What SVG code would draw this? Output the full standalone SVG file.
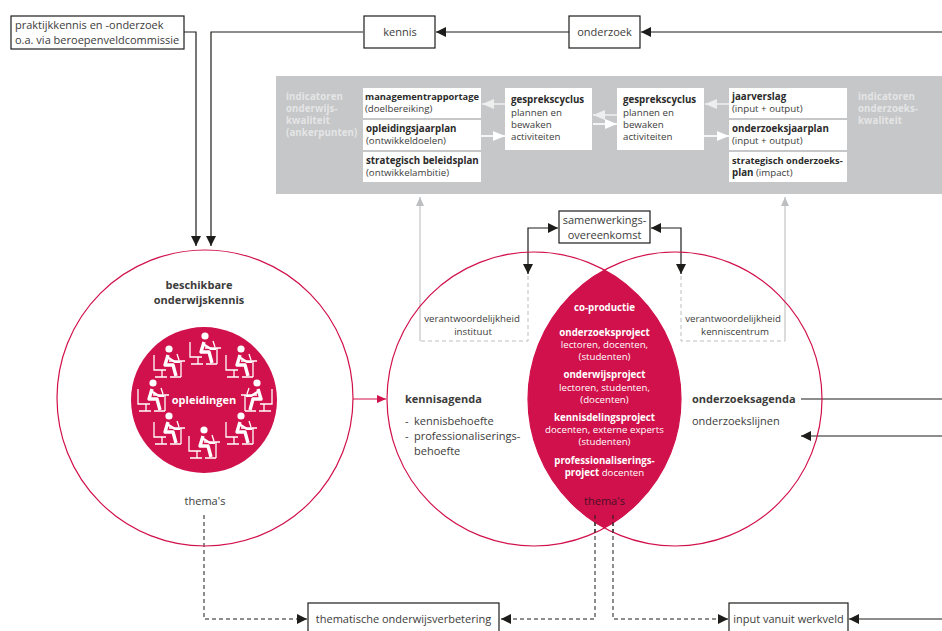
<svg xmlns="http://www.w3.org/2000/svg" xmlns:xlink="http://www.w3.org/1999/xlink" width="942" height="631" viewBox="0 0 942 631">
<style>
text{font-family:"Open Sans","Liberation Sans",sans-serif;font-size:11px;fill:#3c3c3b}
.b{font-weight:700}
.w{fill:#fff}
.s{font-size:9.7px}
.p{font-size:9.7px}
.pb{font-size:9.75px;font-weight:700;fill:#2b2b2a}
.pn{font-size:9.3px;font-weight:700;fill:#2b2b2a}
.g{fill:#e4e5e6;font-weight:700;font-size:9.7px;letter-spacing:.1px}
.m{text-anchor:middle}
.box{fill:#fff;stroke:#1d1d1b;stroke-width:1.2}
.wb{fill:#fff}
.k{fill:none;stroke:#1d1d1b;stroke-width:1.2}
.d{fill:none;stroke:#1d1d1b;stroke-width:1;stroke-dasharray:4 3}
.gl{fill:none;stroke:#bdbebf;stroke-width:1.1}
.gd{fill:none;stroke:#bdbebf;stroke-width:1;stroke-dasharray:4 3}
.wl{fill:none;stroke:#fff;stroke-width:1.6}
.c{fill:none;stroke:#d1114b;stroke-width:1.2}
.i{fill:none;stroke:#fff;stroke-width:1.3}
.a{fill:none;stroke:#fff;stroke-width:2.2;stroke-linejoin:round}
.t{fill:none;stroke:#fff;stroke-width:3.4;stroke-linejoin:round}
</style>
<defs>
<marker id="ak" markerUnits="userSpaceOnUse" markerWidth="10" markerHeight="10" refX="10" refY="5" orient="auto-start-reverse"><path d="M0 0L10 5L0 10Z" fill="#1d1d1b"/></marker>
<marker id="ag" markerUnits="userSpaceOnUse" markerWidth="9" markerHeight="8" refX="9" refY="4" orient="auto"><path d="M0 0L9 4L0 8Z" fill="#bdbebf"/></marker>
<marker id="aw" markerUnits="userSpaceOnUse" markerWidth="12" markerHeight="10" refX="12" refY="5" orient="auto"><path d="M0 0L12 5L0 10Z" fill="#fff"/></marker>
<marker id="awf" markerUnits="userSpaceOnUse" markerWidth="12" markerHeight="10" refX="12" refY="5" orient="auto"><path d="M0 0L12 5L0 10Z" fill="#eeeeef"/></marker>
<marker id="ac" markerUnits="userSpaceOnUse" markerWidth="9" markerHeight="8" refX="9" refY="4" orient="auto"><path d="M0 0L9 4L0 8Z" fill="#d1114b"/></marker>
<clipPath id="lens"><circle cx="534" cy="399" r="147"/></clipPath>
<g id="p">
<circle cx="16" cy="4" r="3.6" fill="#fff"/>
<path class="t" d="M15 10L12 20H20L23 31"/>
<path class="a" d="M14 12L22 17H27"/>
<path class="i" d="M1 10V25H13M9 25V32M2 32H14M16 16H32M28 16V32M17 32H28M24 9L26 15"/>
</g>
</defs>

<rect id="panel" x="276" y="76" width="666" height="118" fill="#c6c7c8"/>

<g id="connectors">
<path class="k" d="M184 32H196V246" marker-end="url(#ak)"/>
<path class="k" d="M363 32H211V246" marker-end="url(#ak)"/>
<path class="k" d="M569 32H436" marker-end="url(#ak)"/>
<path class="k" d="M942 32H641" marker-end="url(#ak)"/>
<path class="k" d="M528 274V228H558" marker-start="url(#ak)" marker-end="url(#ak)"/>
<path class="k" d="M681 274V228H651" marker-start="url(#ak)" marker-end="url(#ak)"/>
<path class="gd" d="M528 276V341H420"/>
<path class="gd" d="M681 276V341H785"/>
<path class="gl" d="M420 341V197" marker-end="url(#ag)"/>
<path class="gl" d="M785 341V197" marker-end="url(#ag)"/>
<path class="k" style="stroke:#d1114b" d="M353 399H386" marker-end="url(#ac)"/>
<path class="k" d="M801 399H942"/>
<path class="k" d="M942 436H801" marker-end="url(#ak)"/>
<path class="k" d="M942 619H849" marker-end="url(#ak)"/>
<path class="d" d="M204 515V619H307" marker-end="url(#ak)"/>
<path class="d" d="M595 515V619H501" marker-end="url(#ak)"/>
<path class="d" d="M613 515V619H728" marker-end="url(#ak)"/>
</g>

<g id="praktijk"><rect class="box" x="11" y="16" width="173" height="33"/>
<text x="15" y="29">praktijkkennis en -onderzoek</text><text x="15" y="44">o.a. via beroepenveldcommissie</text></g>
<g id="kennis"><rect class="box" x="364" y="16" width="71" height="32"/><text class="m" x="400" y="36">kennis</text></g>
<g id="onderzoek"><rect class="box" x="569" y="16" width="71" height="32"/><text class="m" x="604.500" y="36">onderzoek</text></g>

<g id="ind-onderwijs"><text class="g" x="286" y="100">indicatoren</text><text class="g" x="286" y="112">onderwijs-</text><text class="g" x="286" y="124">kwaliteit</text><text class="g" x="286" y="136">(ankerpunten)</text></g>
<g id="ind-onderzoek"><text class="g" x="858" y="100">indicatoren</text><text class="g" x="858" y="112">onderzoeks-</text><text class="g" x="858" y="124">kwaliteit</text></g>

<g id="managementrapportage"><rect class="wb" x="363" y="88" width="118" height="30"/><text class="pn" x="365" y="100">managementrapportage</text><text class="p" x="365" y="112">(doelbereiking)</text></g>
<g id="opleidingsjaarplan"><rect class="wb" x="363" y="120" width="118" height="30"/><text class="pb" x="366" y="132">opleidingsjaarplan</text><text class="p" x="366" y="144">(ontwikkeldoelen)</text></g>
<g id="beleidsplan"><rect class="wb" x="363" y="152" width="118" height="30"/><text class="pb" x="366" y="164">strategisch beleidsplan</text><text class="p" x="366" y="176">(ontwikkelambitie)</text></g>
<g id="cyclus1"><rect class="wb" x="505" y="88" width="87" height="62"/><text class="pb" x="511" y="103">gesprekscyclus</text><text class="p" x="511" y="116">plannen en</text><text class="p" x="511" y="128">bewaken</text><text class="p" x="511" y="140">activiteiten</text></g>
<g id="cyclus2"><rect class="wb" x="617" y="88" width="87" height="62"/><text class="pb" x="623" y="103">gesprekscyclus</text><text class="p" x="623" y="116">plannen en</text><text class="p" x="623" y="128">bewaken</text><text class="p" x="623" y="140">activiteiten</text></g>
<g id="jaarverslag"><rect class="wb" x="729" y="88" width="118" height="30"/><text class="pb" x="732" y="100">jaarverslag</text><text class="p" x="732" y="112">(input + output)</text></g>
<g id="onderzoeksjaarplan"><rect class="wb" x="729" y="120" width="118" height="30"/><text class="pb" x="732" y="132">onderzoeksjaarplan</text><text class="p" x="732" y="144">(input + output)</text></g>
<g id="onderzoeksplan"><rect class="wb" x="729" y="152" width="118" height="30"/><text class="pn" x="732" y="164">strategisch onderzoeks-</text><text class="p" x="732" y="176"><tspan class="pb">plan</tspan> (impact)</text></g>

<g id="white-arrows">
<path class="wl" style="stroke:#eeeeef" d="M505 104H482" marker-end="url(#awf)"/>
<path class="wl" d="M481 136H505" marker-end="url(#aw)"/>
<path class="wl" style="stroke:#eeeeef" d="M617 115H593" marker-end="url(#awf)"/>
<path class="wl" d="M593 124H617" marker-end="url(#aw)"/>
<path class="wl" style="stroke:#eeeeef" d="M729 104H705" marker-end="url(#awf)"/>
<path class="wl" d="M704 136H729" marker-end="url(#aw)"/>
</g>

<g id="overeenkomst"><rect class="box" x="559" y="211" width="91" height="32"/><text class="m" x="604.500" y="224">samenwerkings-</text><text class="m" x="604.500" y="239">overeenkomst</text></g>

<g id="onderwijskennis"><circle class="c" cx="205" cy="398" r="148"/>
<text class="b m" x="199" y="289">beschikbare</text><text class="b m" x="199" y="304">onderwijskennis</text>
<text class="m" x="205" y="505">thema's</text></g>

<g id="opleidingen"><circle cx="204" cy="400" r="73" fill="#d1114b"/>
<use xlink:href="#p" href="#p" x="153" y="345"/>
<use xlink:href="#p" href="#p" x="189" y="332"/>
<use xlink:href="#p" href="#p" x="225" y="345"/>
<use xlink:href="#p" href="#p" x="137" y="379"/>
<use xlink:href="#p" href="#p" transform="translate(273 379) scale(-1 1)"/>
<use xlink:href="#p" href="#p" x="153" y="412"/>
<use xlink:href="#p" href="#p" x="188" y="426"/>
<use xlink:href="#p" href="#p" x="225" y="412"/>
<text class="b w m" x="204" y="404">opleidingen</text></g>

<g id="kennisagenda"><circle class="c" cx="534" cy="399" r="147"/>
<text class="s m" x="472" y="322">verantwoordelijkheid</text><text class="s m" x="473" y="335">instituut</text>
<text class="b" x="405" y="403">kennisagenda</text>
<text x="405" y="425">-</text><text x="414" y="425">kennisbehoefte</text>
<text x="405" y="440">-</text><text x="414" y="440">professionaliserings-</text><text x="414" y="455">behoefte</text></g>

<g id="onderzoeksagenda"><circle class="c" cx="675" cy="399" r="147"/>
<text class="s m" x="733" y="322">verantwoordelijkheid</text><text class="s m" x="735" y="335">kenniscentrum</text>
<text class="b" x="692" y="403">onderzoeksagenda</text><text x="692" y="425">onderzoekslijnen</text></g>

<g id="coproductie"><circle cx="675" cy="399" r="147" fill="#d1114b" clip-path="url(#lens)"/>
<text class="s b w m" x="604.500" y="311">co-productie</text>
<text class="s b w m" x="604.500" y="336">onderzoeksproject</text><text class="s w m" x="604.500" y="348">lectoren, docenten,</text><text class="s w m" x="604.500" y="360">(studenten)</text>
<text class="s b w m" x="604.500" y="378">onderwijsproject</text><text class="s w m" x="604.500" y="391">lectoren, studenten,</text><text class="s w m" x="604.500" y="403">(docenten)</text>
<text class="s b w m" x="604.500" y="421">kennisdelingsproject</text><text class="s w m" x="604.500" y="433">docenten, externe experts</text><text class="s w m" x="604.500" y="445">(studenten)</text>
<text class="s b w m" x="604.500" y="464">professionaliserings-</text><text class="s w m" x="604.500" y="476"><tspan class="b">project</tspan> docenten</text>
<text class="m" x="604.500" y="505" style="fill:#4a0f26">thema's</text></g>

<g id="dash-over"><path class="d" d="M595 515V535M613 515V535"/></g>

<g id="verbetering"><rect class="box" x="308" y="603" width="191" height="32"/><text class="m" x="403.500" y="623">thematische onderwijsverbetering</text></g>
<g id="werkveld"><rect class="box" x="729" y="603" width="119" height="32"/><text class="m" x="788.500" y="623">input vanuit werkveld</text></g>
</svg>
